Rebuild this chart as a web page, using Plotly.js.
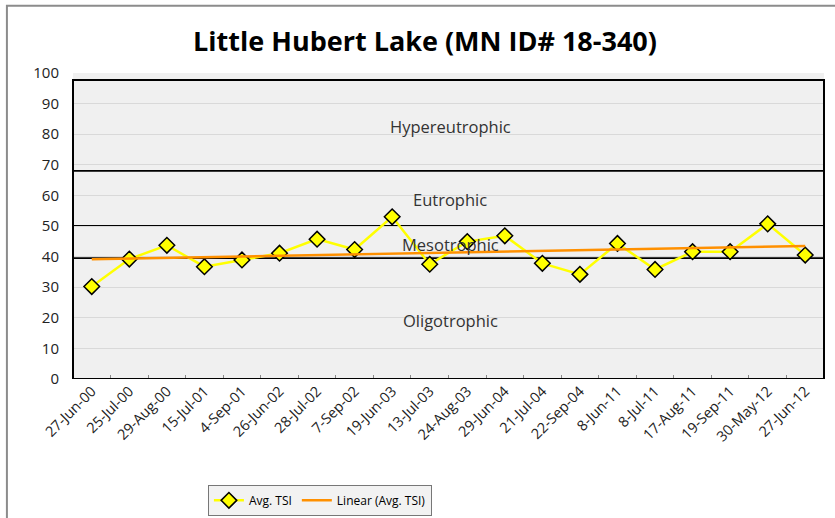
<!DOCTYPE html>
<html>
<head>
<meta charset="utf-8">
<script src="https://cdn.plot.ly/plotly-3.0.1.min.js"></script>
<style>html,body{margin:0;padding:0;background:#fff;}#chart{width:835px;height:518px;}</style>
</head>
<body>
<div id="chart"></div>
<script>
const dates = ["27-Jun-00","25-Jul-00","29-Aug-00","15-Jul-01","4-Sep-01","26-Jun-02","28-Jul-02","7-Sep-02","19-Jun-03","13-Jul-03","24-Aug-03","29-Jun-04","21-Jul-04","22-Sep-04","8-Jun-11","8-Jul-11","17-Aug-11","19-Sep-11","30-May-12","27-Jun-12"];
const avgTSI = [30.2,39.2,43.7,36.7,38.9,41.1,45.7,42.3,53.0,37.5,44.9,46.8,37.8,34.2,44.3,35.8,41.6,41.6,50.7,40.5];
const zoneNames = ["Hypereutrophic","Eutrophic","Mesotrophic","Oligotrophic"];
const zoneLabelY = [82.5,58.5,43.8,19];
const zoneBounds = [68,50,39.5];
const yTicks = [0,10,20,30,40,50,60,70,80,90,100];

// linear trend (least squares) of Avg. TSI against point index
const n = avgTSI.length;
const xs = avgTSI.map((_, i) => i);
const mx = xs.reduce((a,b)=>a+b,0)/n;
const my = avgTSI.reduce((a,b)=>a+b,0)/n;
let sxy = 0, sxx = 0;
for (let i = 0; i < n; i++) { sxy += (xs[i]-mx)*(avgTSI[i]-my); sxx += (xs[i]-mx)**2; }
const slope = sxy/sxx, icpt = my - slope*mx;
const trend = xs.map(x => icpt + slope*x);

const FONT = "Open Sans, Liberation Sans, sans-serif";

const traces = [
  {x: dates, y: avgTSI, name: "Avg. TSI", type: "scatter", mode: "lines+markers",
   line: {color: "#FFFF00", width: 2.5},
   marker: {symbol: "diamond", size: 12, color: "#FFFF00", line: {color: "#000", width: 1.5}}},
  {x: dates, y: trend, name: "Linear (Avg. TSI)", type: "scatter", mode: "lines",
   line: {color: "#FF9000", width: 2.5}}
];

const shapes = [
  {type: "rect", xref: "paper", yref: "paper", x0: -0.088, x1: 1.2, y0: -1, y1: 1.22, line: {color: "#8c8c8c", width: 2}, layer: "below"},
  {type: "rect", xref: "paper", yref: "y", x0: 0, x1: 1, y0: 0, y1: 97.7, line: {color: "#000", width: 2}, layer: "above"}
];
zoneBounds.forEach(b => shapes.push({type: "line", xref: "paper", yref: "y", x0: 0, x1: 1, y0: b, y1: b, line: {color: "#000", width: 1.8}, layer: "below"}));

const annotations = zoneNames.map((t, i) => ({
  text: t, xref: "paper", yref: "y", x: 0.502, y: zoneLabelY[i], showarrow: false,
  font: {family: FONT, size: 16.5, color: "#333"}
}));

const layout = {
  width: 835, height: 518,
  margin: {l: 73, r: 11, t: 73, b: 139},
  paper_bgcolor: "#fff", plot_bgcolor: "#F0F0F0",
  title: {text: "<b>Little Hubert Lake (MN ID# 18-340)</b>", x: 0.509, xanchor: "center", y: 0.919, yanchor: "middle",
          font: {family: FONT, size: 27, color: "#000"}},
  xaxis: {type: "category", range: [-0.5, n-0.5], tickangle: -45, showgrid: false, zeroline: false, automargin: false,
          ticks: "inside", tickson: "boundaries", ticklen: 4, tickcolor: "#888",
          tickfont: {family: FONT, size: 14.5, color: "#222"}, fixedrange: true},
  yaxis: {range: [0, 100], tickvals: yTicks, showgrid: true, gridcolor: "#D9D9D9", gridwidth: 1, automargin: false,
          zeroline: false, ticks: "", ticklabelstandoff: 13,
          tickfont: {family: FONT, size: 15, color: "#222"}, fixedrange: true},
  showlegend: true,
  legend: {orientation: "h", xref: "container", yref: "container", x: 0.249, xanchor: "left", y: 0.064, yanchor: "top",
           bgcolor: "#F2F2F2", bordercolor: "#777", borderwidth: 1, itemwidth: 30,
           font: {family: FONT, size: 12, color: "#000"}},
  shapes: shapes,
  annotations: annotations
};

Plotly.newPlot("chart", traces, layout, {displayModeBar: false, staticPlot: true});
</script>
</body>
</html>
